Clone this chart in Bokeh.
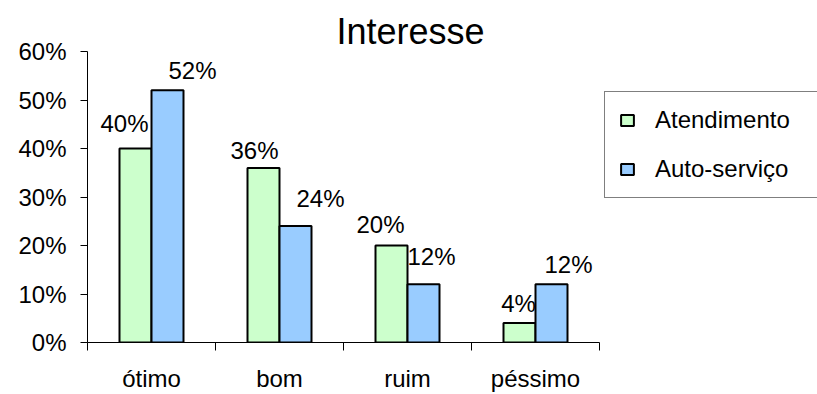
from bokeh.plotting import figure
from bokeh.models import (ColumnDataSource, Range1d, FixedTicker, NumeralTickFormatter,
                          LabelSet, Legend, LegendItem)
from bokeh.core.properties import value
from bokeh.embed import file_html
from bokeh.resources import INLINE

# ---- data ----
categories = ["ótimo", "bom", "ruim", "péssimo"]
atendimento = [0.40, 0.36, 0.20, 0.04]
auto_servico = [0.52, 0.24, 0.12, 0.12]
series_names = ["Atendimento", "Auto-serviço"]
y_ticks = [0.0, 0.1, 0.2, 0.3, 0.4, 0.5, 0.6]

# ---- styling ----
FONT = "Liberation Sans"
GREEN = "#CCFFCC"
BLUE = "#99CCFF"
BAR_W = 0.25
W, H = 817, 394
LEFT, AXIS_RIGHT = 87, 599          # pixel extent of the category axis
# label nudges (pixels) to mimic the hand-placed labels of the original
green_dx = [-11, -9, -11, -1]
green_dy = [17, 9, 13, 11]
blue_dx = [25, 25, 8, 17]
blue_dy = [11, 19, 19, 11]

n = len(categories)
centers = [i + 0.5 for i in range(n)]
# frame runs to the right edge so the legend can sit inside it; the axis is bounded to the categories
x_end = n * (W - LEFT) / (AXIS_RIGHT - LEFT)

src_a = ColumnDataSource(dict(
    x=[c - BAR_W / 2 for c in centers], top=atendimento,
    lab=[f"{round(v * 100)}%" for v in atendimento], dx=green_dx, dy=green_dy))
src_b = ColumnDataSource(dict(
    x=[c + BAR_W / 2 for c in centers], top=auto_servico,
    lab=[f"{round(v * 100)}%" for v in auto_servico], dx=blue_dx, dy=blue_dy))

p = figure(width=W, height=H, output_backend="svg", toolbar_location=None,
           x_range=Range1d(0, x_end), y_range=Range1d(0, 0.6),
           min_border_left=LEFT, min_border_right=0, min_border_top=51, min_border_bottom=52)
p.outline_line_color = None
p.xgrid.visible = False
p.ygrid.visible = False
p.background_fill_color = "white"
p.border_fill_color = "white"

r_a = p.vbar(x="x", top="top", width=BAR_W, bottom=0, source=src_a,
             fill_color=GREEN, line_color="black", line_width=2)
r_b = p.vbar(x="x", top="top", width=BAR_W, bottom=0, source=src_b,
             fill_color=BLUE, line_color="black", line_width=2)

for src in (src_a, src_b):
    p.add_layout(LabelSet(x="x", y="top", text="lab", source=src,
                          x_offset="dx", y_offset="dy",
                          text_align="center", text_baseline="alphabetic",
                          text_font=value(FONT), text_font_size=value("24px"),
                          text_color="black"))

# x axis: labels at centres, tick marks at category boundaries
xa = p.xaxis[0]
xa.bounds = (0, n)
xa.ticker = FixedTicker(ticks=centers, minor_ticks=list(range(n + 1)))
xa.major_label_overrides = {c: cat for c, cat in zip(centers, categories)}
xa.major_tick_in = 0
xa.major_tick_out = 0
xa.minor_tick_in = 0
xa.minor_tick_out = 8
xa.minor_tick_line_color = "black"
xa.axis_line_color = "black"
xa.major_label_text_font = FONT
xa.major_label_text_font_size = "24px"
xa.major_label_text_color = "black"
xa.major_label_standoff = 14

ya = p.yaxis[0]
ya.ticker = FixedTicker(ticks=y_ticks, minor_ticks=[])
ya.formatter = NumeralTickFormatter(format="0%")
ya.major_tick_in = 0
ya.major_tick_out = 7
ya.major_tick_line_color = "black"
ya.axis_line_color = "black"
ya.major_label_text_font = FONT
ya.major_label_text_font_size = "24px"
ya.major_label_text_color = "black"
ya.major_label_standoff = 14

p.title.text = "Interesse"
p.title.align = "left"
p.title.offset = 249
p.title.text_font = FONT
p.title.text_font_size = "36px"
p.title.text_font_style = "normal"
p.title.text_color = "black"
p.title.standoff = 0

legend = Legend(items=[LegendItem(label=series_names[0], renderers=[r_a]),
                       LegendItem(label=series_names[1], renderers=[r_b])],
                location=(517, 144), orientation="vertical",
                label_text_font=FONT, label_text_font_size="24px", label_text_color="black",
                glyph_width=16, glyph_height=14, label_standoff=20,
                padding=14, spacing=21, margin=0, label_width=170,
                border_line_color="black", border_line_width=1,
                background_fill_color="white", background_fill_alpha=1)
p.add_layout(legend)

open("out.html", "w").write(file_html(p, INLINE))
